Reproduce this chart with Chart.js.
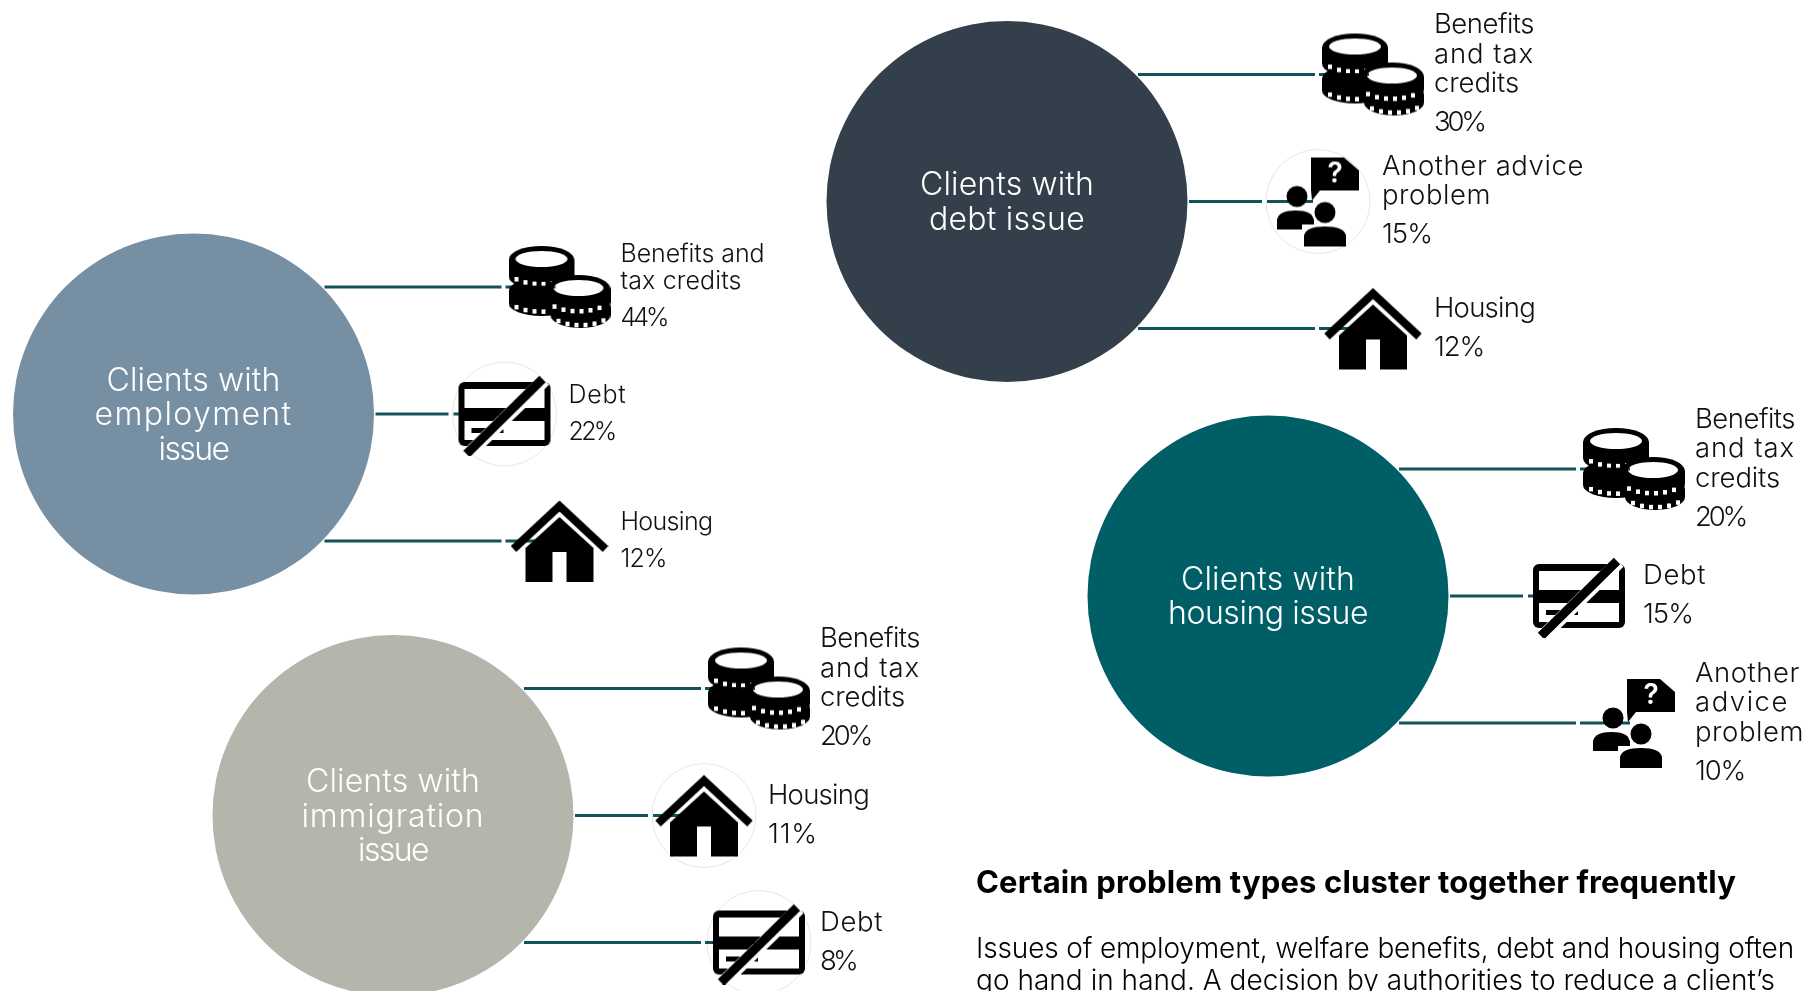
<!DOCTYPE html>
<html>
<head>
<meta charset="utf-8">
<title>Clients and clustered problems</title>
<script src="https://cdn.jsdelivr.net/npm/chart.js@4/dist/chart.umd.min.js"></script>
<style>
    html, body { margin: 0; padding: 0; background: #fff; overflow: hidden; }
    #wrap { width: 1807px; height: 991px; }
    canvas { display: block; }
</style>
</head>
<body>
<div id="wrap"><canvas id="clusterChart"></canvas></div>
<script>
// data
const employmentTitle = ['Clients with', 'employment', 'issue'];
const employmentLabels = [['Benefits and', 'tax credits'], ['Debt'], ['Housing']];
const employmentIcons = ['coins', 'card', 'house'];
const employmentValues = [44, 22, 12];

const debtTitle = ['Clients with', 'debt issue'];
const debtLabels = [['Benefits', 'and tax', 'credits'], ['Another advice', 'problem'], ['Housing']];
const debtIcons = ['coins', 'people', 'house'];
const debtValues = [30, 15, 12];

const housingTitle = ['Clients with', 'housing issue'];
const housingLabels = [['Benefits', 'and tax', 'credits'], ['Debt'], ['Another', 'advice', 'problem']];
const housingIcons = ['coins', 'card', 'people'];
const housingValues = [20, 15, 10];

const immigrationTitle = ['Clients with', 'immigration', 'issue'];
const immigrationLabels = [['Benefits', 'and tax', 'credits'], ['Housing'], ['Debt']];
const immigrationIcons = ['coins', 'house', 'card'];
const immigrationValues = [20, 11, 8];

const headingText = 'Certain problem types cluster together frequently';
const bodyLines = [
    'Issues of employment, welfare benefits, debt and housing often',
    'go hand in hand. A decision by authorities to reduce a client\u2019s'
];

// layout
const W = 1807, H = 991;
const FONT = 'Inter, "Noto Sans", sans-serif';
const LINE_COLOR = '#12525b';
const RADIUS = 180.5;
const ROW_GAP = 127;

// the original face is wider in places, so each string is fitted to the width it has there
const titleWidths = {
    'Clients with': 174, 'employment': 198, 'issue': 70, 'debt issue': 156,
    'housing issue': 200, 'immigration': 183
};
const smallWidths = { 'Benefits and': 144, 'tax credits': 121, 'Debt': 58, 'Housing': 92 };
const regularWidths = {
    'Benefits': 100, 'and tax': 100, 'credits': 85, 'Housing': 101, 'Debt': 63,
    'Another advice': 202, 'problem': 109, 'Another': 105, 'advice': 94
};

const groups = [
    { title: employmentTitle, labels: employmentLabels, icons: employmentIcons, values: employmentValues,
      cx: 193.5, cy: 414, color: '#778fa3', size: 25, lineH: 26.5, pctGap: 37, pctW: 46, widths: smallWidths, rings: [1] },
    { title: debtTitle, labels: debtLabels, icons: debtIcons, values: debtValues,
      cx: 1007, cy: 201.5, color: '#333f4a', size: 27.5, lineH: 29.4, pctGap: 39, pctW: 50, widths: regularWidths, rings: [1] },
    { title: housingTitle, labels: housingLabels, icons: housingIcons, values: housingValues,
      cx: 1268, cy: 596, color: '#005f66', size: 27.5, lineH: 29.4, pctGap: 39, pctW: 50, widths: regularWidths, rings: [] },
    { title: immigrationTitle, labels: immigrationLabels, icons: immigrationIcons, values: immigrationValues,
      cx: 393, cy: 815.5, color: '#b5b6ab', size: 27.5, lineH: 29.4, pctGap: 39, pctW: 50, widths: regularWidths, rings: [1, 2] }
];

function isMiddle(row) {
    return row === 1;
}

function rowPos(group, row) {
    const near = isMiddle(row);
    return {
        y: group.cy + (row - 1) * ROW_GAP,
        lineStart: group.cx + (near ? 182 : 131),
        gapStart: group.cx + (near ? 255 : 308),
        gapEnd: group.cx + (near ? 260 : 312),
        lineEnd: group.cx + (near ? 306 : 362),
        icon: group.cx + (near ? 311 : 366),
        label: group.cx + (near ? 375 : 427)
    };
}

// icons are painted once on small canvases and used as point styles
function newIcon(w, h) {
    const c = document.createElement('canvas');
    c.width = w;
    c.height = h;
    const ctx = c.getContext('2d');
    ctx.fillStyle = '#000';
    ctx.strokeStyle = '#000';
    return [c, ctx];
}

function punch(ctx, draw) {
    ctx.save();
    ctx.globalCompositeOperation = 'destination-out';
    ctx.fillStyle = '#000';
    ctx.strokeStyle = '#000';
    draw();
    ctx.restore();
}

function coin(ctx, x, y, rx, ry, h, hollow) {
    ctx.beginPath();
    ctx.ellipse(x, y, rx, ry, 0, 0, Math.PI * 2);
    ctx.fill();
    ctx.fillRect(x - rx, y, rx * 2, h);
    ctx.beginPath();
    ctx.ellipse(x, y + h, rx, ry, 0, 0, Math.PI * 2);
    ctx.fill();
    punch(ctx, () => {
        if (hollow) {
            ctx.beginPath();
            ctx.ellipse(x, y - 1, rx - 7, ry - 6, 0, 0, Math.PI * 2);
            ctx.fill();
        }
        for (let dx = -rx + 8; dx <= rx - 6; dx += 9) {
            const dy = ry * Math.sqrt(1 - (dx * dx) / (rx * rx));
            ctx.fillRect(x + dx - 2, y + h * 0.62 + dy - 2, 4, 4.5);
        }
    });
}

function coinsIcon() {
    const [c, ctx] = newIcon(102, 84);
    coin(ctx, 33, 46, 33, 13, 12, false);
    coin(ctx, 33, 15, 33, 14, 16, true);
    coin(ctx, 72, 62, 30, 13, 8, false);
    coin(ctx, 70, 44, 32, 14, 13, true);
    return c;
}

function cardIcon() {
    const [c, ctx] = newIcon(96, 84);
    const ox = 2, oy = 10;
    ctx.beginPath();
    ctx.roundRect(ox, oy, 92, 64, 6);
    ctx.fill();
    punch(ctx, () => {
        ctx.fillRect(ox + 6, oy + 7, 80, 19);
        ctx.fillRect(ox + 6, oy + 39, 80, 19);
    });
    ctx.fillRect(ox + 13, oy + 46, 32, 5);
    punch(ctx, () => {
        ctx.lineWidth = 13;
        ctx.beginPath();
        ctx.moveTo(ox + 10, oy + 72);
        ctx.lineTo(ox + 86, oy - 2);
        ctx.stroke();
    });
    ctx.lineWidth = 9;
    ctx.beginPath();
    ctx.moveTo(ox + 8, oy + 72);
    ctx.lineTo(ox + 84, oy - 3);
    ctx.stroke();
    return c;
}

function houseIcon() {
    const [c, ctx] = newIcon(98, 84);
    ctx.lineWidth = 8;
    ctx.lineJoin = 'miter';
    ctx.beginPath();
    ctx.moveTo(3, 50);
    ctx.lineTo(49, 7);
    ctx.lineTo(95, 50);
    ctx.stroke();
    ctx.beginPath();
    ctx.moveTo(49, 18);
    ctx.lineTo(83, 49);
    ctx.lineTo(83, 83);
    ctx.lineTo(56, 83);
    ctx.lineTo(56, 53);
    ctx.lineTo(42, 53);
    ctx.lineTo(42, 83);
    ctx.lineTo(15, 83);
    ctx.lineTo(15, 49);
    ctx.closePath();
    ctx.fill();
    return c;
}

function personShape(ctx, hx, hy, hr, left, right, top, bottom) {
    ctx.beginPath();
    ctx.arc(hx, hy, hr, 0, Math.PI * 2);
    ctx.fill();
    ctx.beginPath();
    ctx.moveTo(left, bottom);
    ctx.lineTo(left, top + 9);
    ctx.quadraticCurveTo(left + 2, top, (left + right) / 2, top);
    ctx.quadraticCurveTo(right - 2, top, right, top + 9);
    ctx.lineTo(right, bottom);
    ctx.closePath();
    ctx.fill();
}

function peopleIcon() {
    const [c, ctx] = newIcon(84, 94);
    // speech bubble
    ctx.beginPath();
    ctx.moveTo(35, 3);
    ctx.lineTo(68, 3);
    ctx.lineTo(83, 16);
    ctx.lineTo(83, 36);
    ctx.lineTo(44, 36);
    ctx.lineTo(36, 46);
    ctx.lineTo(35, 36);
    ctx.closePath();
    ctx.fill();
    ctx.save();
    ctx.fillStyle = '#fff';
    ctx.font = '600 28px ' + FONT;
    ctx.textAlign = 'center';
    ctx.textBaseline = 'middle';
    ctx.fillText('?', 59, 20);
    ctx.restore();
    personShape(ctx, 21, 42, 10.5, 1, 38, 56, 75);
    punch(ctx, () => {
        ctx.beginPath();
        ctx.arc(49, 58, 13, 0, Math.PI * 2);
        ctx.fill();
        ctx.fillRect(26, 70, 46, 24);
    });
    personShape(ctx, 49, 58, 10.5, 28, 70, 72, 92);
    return c;
}

const iconMakers = { coins: coinsIcon, card: cardIcon, house: houseIcon, people: peopleIcon };
const iconCache = {};
function iconFor(name) {
    if (!iconCache[name]) iconCache[name] = iconMakers[name]();
    return iconCache[name];
}

// datasets built from the arrays above
const circlePoints = groups.map(g => ({ x: g.cx, y: g.cy, r: RADIUS }));
const circleColors = groups.map(g => g.color);

const ringPoints = [];
const iconPoints = [];
const iconStyles = [];
const leaderSets = [];

groups.forEach(g => {
    g.values.forEach((v, row) => {
        const p = rowPos(g, row);
        iconPoints.push({ x: p.icon, y: p.y });
        iconStyles.push(iconFor(g.icons[row]));
        if (g.rings.includes(row)) ringPoints.push({ x: p.icon, y: p.y, r: 52 });
        leaderSets.push({
            type: 'line',
            order: 2,
            data: [
                { x: p.lineStart, y: p.y }, { x: p.gapStart, y: p.y },
                { x: null, y: null },
                { x: p.gapEnd, y: p.y }, { x: p.lineEnd, y: p.y }
            ],
            borderColor: LINE_COLOR,
            borderWidth: 3,
            pointRadius: 0,
            spanGaps: false
        });
    });
});

function fitText(ctx, text, x, y, width) {
    ctx.letterSpacing = '0px';
    if (width) {
        const measured = ctx.measureText(text).width;
        ctx.letterSpacing = ((width - measured) / text.length).toFixed(3) + 'px';
    }
    ctx.fillText(text, x, y);
    ctx.letterSpacing = '0px';
}

// all the words go on through one plugin
const textPlugin = {
    id: 'textPlugin',
    afterDatasetsDraw(chart) {
        const ctx = chart.ctx;
        const sx = chart.scales.x, sy = chart.scales.y;
        ctx.save();
        ctx.textBaseline = 'middle';

        groups.forEach(g => {
            ctx.fillStyle = '#fff';
            ctx.textAlign = 'center';
            ctx.font = '300 32px ' + FONT;
            const top = g.cy - (g.title.length - 1) * 34.6 / 2;
            g.title.forEach((line, i) => {
                fitText(ctx, line, sx.getPixelForValue(g.cx), sy.getPixelForValue(top + i * 34.6 + 1.5), titleWidths[line]);
            });

            ctx.textAlign = 'left';
            ctx.fillStyle = '#111';
            ctx.font = '300 ' + g.size + 'px ' + FONT;
            g.values.forEach((v, row) => {
                const p = rowPos(g, row);
                const lines = g.labels[row];
                const blockH = (lines.length - 1) * g.lineH + g.pctGap;
                let y = p.y - blockH / 2 - 0.5;
                lines.forEach((line, i) => {
                    fitText(ctx, line, sx.getPixelForValue(p.label), sy.getPixelForValue(y + i * g.lineH), g.widths[line]);
                });
                y += blockH;
                const pctWidth = v < 10 ? g.pctW * 0.7 : g.pctW;
                fitText(ctx, v + '%', sx.getPixelForValue(p.label), sy.getPixelForValue(y), pctWidth);
            });
        });

        ctx.fillStyle = '#000';
        ctx.font = '700 31px ' + FONT;
        fitText(ctx, headingText, sx.getPixelForValue(976), sy.getPixelForValue(884), 760);
        ctx.font = '300 28px ' + FONT;
        fitText(ctx, bodyLines[0], sx.getPixelForValue(976), sy.getPixelForValue(950), 818);
        fitText(ctx, bodyLines[1], sx.getPixelForValue(976), sy.getPixelForValue(981.5), 799);
        ctx.restore();
    }
};

const chart = new Chart(document.getElementById('clusterChart'), {
    type: 'bubble',
    data: {
        datasets: [
            {
                type: 'bubble',
                order: 4,
                data: circlePoints,
                backgroundColor: circleColors,
                borderWidth: 0
            },
            {
                type: 'bubble',
                order: 3,
                data: ringPoints,
                backgroundColor: 'rgba(255,255,255,0)',
                borderColor: '#e6e6e6',
                borderWidth: 1
            },
            ...leaderSets,
            {
                type: 'scatter',
                order: 1,
                data: iconPoints,
                pointStyle: iconStyles,
                pointRadius: 10,
                showLine: false
            }
        ]
    },
    options: {
        responsive: true,
        maintainAspectRatio: false,
        animation: false,
        layout: { padding: 0, autoPadding: false },
        plugins: {
            legend: { display: false },
            tooltip: { enabled: false }
        },
        events: [],
        scales: {
            x: { type: 'linear', min: 0, max: W, display: false },
            y: { type: 'linear', min: 0, max: H, reverse: true, display: false }
        }
    },
    plugins: [textPlugin]
});
</script>
</body>
</html>
